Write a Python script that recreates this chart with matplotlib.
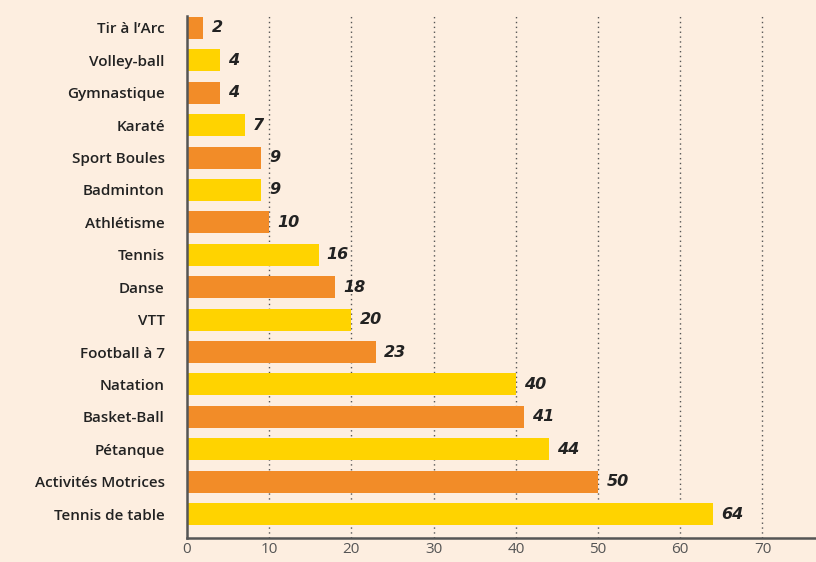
import matplotlib
matplotlib.use("Agg")
import matplotlib.pyplot as plt

categories = ["Tir à l’Arc", "Volley-ball", "Gymnastique", "Karaté", "Sport Boules",
              "Badminton", "Athlétisme", "Tennis", "Danse", "VTT", "Football à 7",
              "Natation", "Basket-Ball", "Pétanque", "Activités Motrices", "Tennis de table"]
values = [2, 4, 4, 7, 9, 9, 10, 16, 18, 20, 23, 40, 41, 44, 50, 64]
x_ticks = [0, 10, 20, 30, 40, 50, 60, 70]

ORANGE = "#F28C28"
YELLOW = "#FFD300"
BG = "#FDEEE0"

fig = plt.figure(figsize=(8.16, 5.62), dpi=100, facecolor=BG)
ax = fig.add_axes([187/816, 24/562, 1 - 187/816 + 0.01, (538-16)/562])
ax.set_facecolor(BG)

n = len(categories)
ypos = [n - 1 - i for i in range(n)]
colors = [ORANGE if i % 2 == 0 else YELLOW for i in range(n)]
ax.barh(ypos, values, height=0.68, color=colors, zorder=2)

for y, v in zip(ypos, values):
    ax.text(v + 1.0, y, str(v), va="center", ha="left", fontsize=11.5,
            fontweight="bold", fontstyle="italic", family="DejaVu Sans", color="#222222")

ax.set_xlim(0, 77.5)
ax.set_ylim(-0.74, n - 1 + 0.37)
ax.set_yticks(ypos)
ax.set_yticklabels(categories, family="Open Sans", fontweight="semibold", fontsize=11, color="#222222")
ax.set_xticks(x_ticks)
ax.set_xticklabels([str(t) for t in x_ticks], family="Open Sans", fontsize=11, color="#555555")
ax.tick_params(axis="y", length=0, pad=16)
ax.tick_params(axis="x", length=0, pad=3)

for t in x_ticks[1:]:
    ax.axvline(t, color="#555555", linestyle=(0, (1, 2.5)), linewidth=1.0, zorder=1)

for s in ["top", "right"]:
    ax.spines[s].set_visible(False)
for s in ["left", "bottom"]:
    ax.spines[s].set_color("#555555")
    ax.spines[s].set_linewidth(1.8)

fig.savefig("out.png", dpi=100, facecolor=BG)
